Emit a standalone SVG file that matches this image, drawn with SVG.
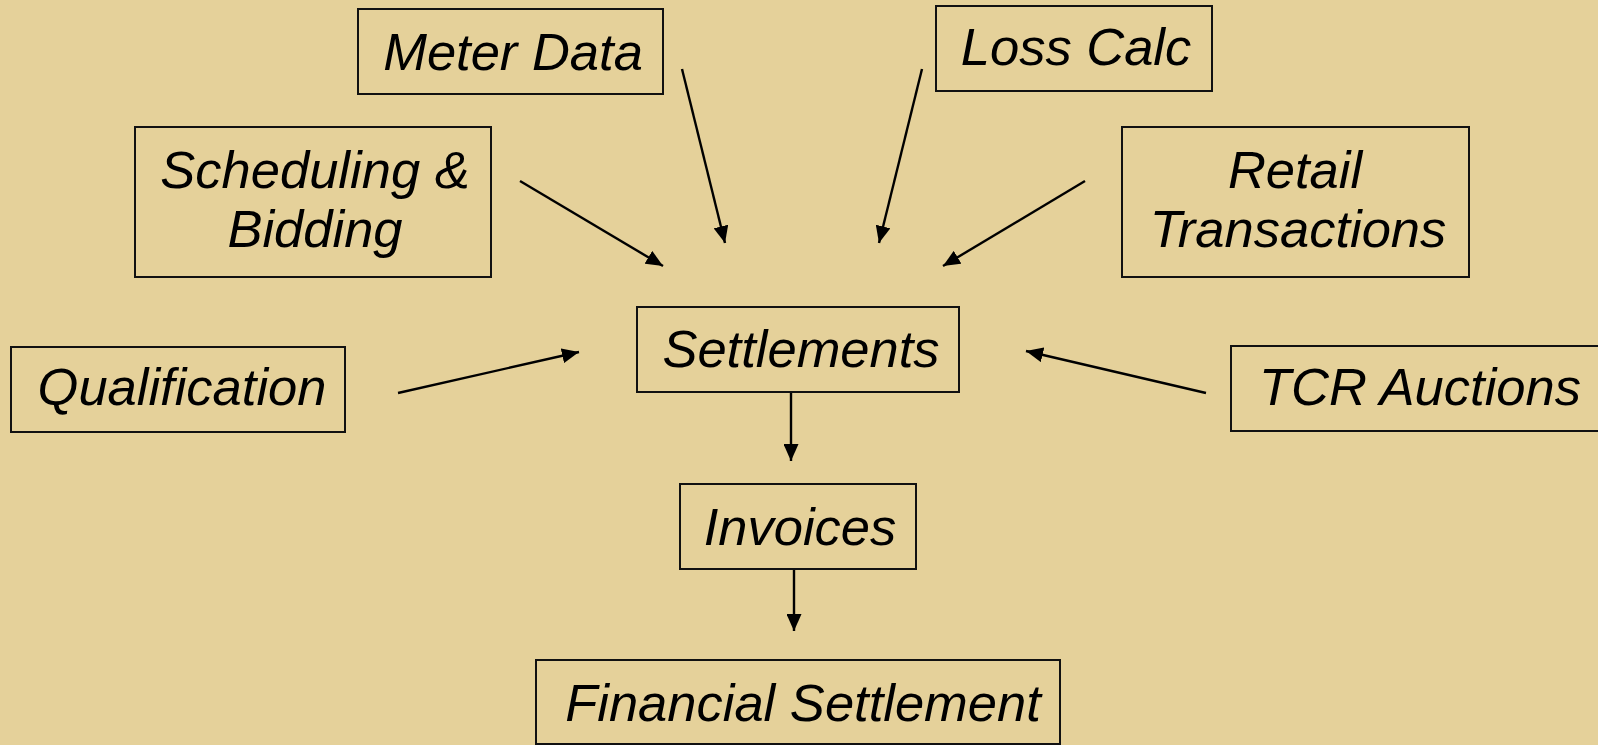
<svg xmlns="http://www.w3.org/2000/svg" width="1598" height="745" viewBox="0 0 1598 745">
  <style>
    .box { fill: none; stroke: #111; stroke-width: 2; }
    .lbl { font-family: "Liberation Sans", Arial, sans-serif; font-style: italic; font-size: 52.5px; fill: #000; text-anchor: middle; }
    .edge { stroke: #000; stroke-width: 2.4; fill: none; marker-end: url(#head); }
  </style>
  <defs>
    <marker id="head" markerUnits="userSpaceOnUse" markerWidth="19" markerHeight="15" refX="17" refY="7.5" orient="auto">
      <path d="M0,0 L17,7.5 L0,15 Z" fill="#000"/>
    </marker>
  </defs>

  <rect width="1598" height="745" fill="#E5D19A"/>

  <g id="connectors">
    <line class="edge" x1="682" y1="69" x2="725" y2="243"/>
    <line class="edge" x1="922" y1="69" x2="879" y2="243"/>
    <line class="edge" x1="520" y1="181" x2="663" y2="266"/>
    <line class="edge" x1="1085" y1="181" x2="943" y2="266"/>
    <line class="edge" x1="398" y1="393" x2="579" y2="352"/>
    <line class="edge" x1="1206" y1="393" x2="1026" y2="351"/>
    <line class="edge" x1="791" y1="392" x2="791" y2="461"/>
    <line class="edge" x1="794" y1="569" x2="794" y2="631"/>
  </g>

  <g id="meter-data">
    <rect class="box" x="358" y="9" width="305" height="85"/>
    <text class="lbl" x="513" y="70">Meter Data</text>
  </g>

  <g id="loss-calc">
    <rect class="box" x="936" y="6" width="276" height="85"/>
    <text class="lbl" x="1076" y="65">Loss Calc</text>
  </g>

  <g id="scheduling-bidding">
    <rect class="box" x="135" y="127" width="356" height="150"/>
    <text class="lbl" x="315" y="188">Scheduling &amp;</text>
    <text class="lbl" x="315" y="247">Bidding</text>
  </g>

  <g id="retail-transactions">
    <rect class="box" x="1122" y="127" width="347" height="150"/>
    <text class="lbl" x="1295" y="188">Retail</text>
    <text class="lbl" x="1298" y="247">Transactions</text>
  </g>

  <g id="qualification">
    <rect class="box" x="11" y="347" width="334" height="85"/>
    <text class="lbl" x="182" y="405">Qualification</text>
  </g>

  <g id="tcr-auctions">
    <rect class="box" x="1231" y="346" width="380" height="85"/>
    <text class="lbl" x="1420" y="405">TCR Auctions</text>
  </g>

  <g id="settlements">
    <rect class="box" x="637" y="307" width="322" height="85"/>
    <text class="lbl" x="801" y="367">Settlements</text>
  </g>

  <g id="invoices">
    <rect class="box" x="680" y="484" width="236" height="85"/>
    <text class="lbl" x="800" y="545">Invoices</text>
  </g>

  <g id="financial-settlement">
    <rect class="box" x="536" y="660" width="524" height="84"/>
    <text class="lbl" x="803" y="721">Financial Settlement</text>
  </g>
</svg>
